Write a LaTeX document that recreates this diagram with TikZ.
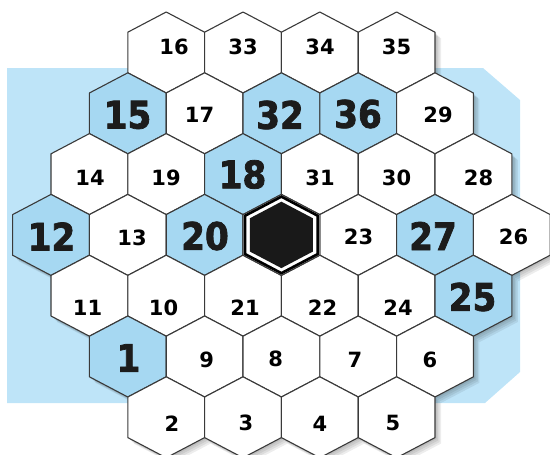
\documentclass[tikz,border=0pt]{standalone}
\usepackage{fontspec}
\setmainfont{DejaVu Sans}
\newfontfamily\bignumfont{DejaVu Sans}[FakeStretch=0.9,FakeBold=2]
\definecolor{bgblue}{RGB}{190,228,248}
\definecolor{hexblue}{RGB}{166,216,242}
\definecolor{edge}{RGB}{58,58,58}
\definecolor{txt}{RGB}{28,28,28}
\newcommand\hexat[2]{(#1,#2-40.5) -- (#1+38.4,#2-20.3) -- (#1+38.4,#2+20.3) -- (#1,#2+40.5) -- (#1-38.4,#2+20.3) -- (#1-38.4,#2-20.3) -- cycle}
\def\cells{3/0/w/16/174/47, 5/0/w/33/243/47, 7/0/w/34/320/47, 9/0/w/35/396.5/47,
2/1/b/15/127.5/115, 4/1/w/17/199.5/115, 6/1/b/32/280/115, 8/1/b/36/358/114, 10/1/w/29/438/115,
1/2/w/14/90/178, 3/2/w/19/166/178, 5/2/b/18/242.5/174.5, 7/2/w/31/320/178, 9/2/w/30/396.5/178, 11/2/w/28/478.5/178,
0/3/b/12/51.5/236.5, 2/3/w/13/132/237.5, 4/3/b/20/205/236, 8/3/w/23/358.5/237, 10/3/b/27/433/236, 12/3/w/26/513.5/237,
1/4/w/11/87.5/308, 3/4/w/10/163.5/308, 5/4/w/21/245/308, 7/4/w/22/322.5/308, 9/4/w/24/398/308, 11/4/b/25/472.5/297,
2/5/b/1/128.5/358, 4/5/w/9/206.7/360, 6/5/w/8/275.7/359, 8/5/w/7/355/360, 10/5/w/6/430/360,
3/6/w/2/172/423.5, 5/6/w/3/246/423, 7/6/w/4/320/424, 9/6/w/5/393/423}
\begin{document}
\begin{tikzpicture}[x=1pt,y=-1pt,
  cell/.style={draw=edge,line width=1.1pt,line join=round},
  cellw/.style={fill=white},
  cellb/.style={fill=hexblue},
  numw/.style={font=\fontsize{21}{21}\selectfont\bfseries,text=black,inner sep=0pt},
  numb/.style={font=\bignumfont\bfseries\fontsize{38}{38}\selectfont,text=txt,inner sep=0pt},
  shade/.style={fill=black,opacity=0.07}]
\useasboundingbox (0,0) rectangle (550,455);
% background
\fill[bgblue] (7,68) -- (483,68) -- (520,100) -- (520,372) -- (485,403) -- (7,403) -- cycle;
% shadows
\foreach \c/\r/\k/\l/\tx/\ty in \cells {
  \pgfmathsetmacro\xx{51+38.4*\c}
  \pgfmathsetmacro\yy{52.5+60.8*\r}
  \foreach \o in {1.5,3,4.5,6} {
    \fill[shade,shift={(\o,\o)}] \hexat{\xx}{\yy};
  }
}
\foreach \o in {1.5,3,4.5,6} {
  \fill[shade,shift={(\o,\o)}] \hexat{281.4}{234.9};
}
% cells
\foreach \c/\r/\k/\l/\tx/\ty in \cells {
  \pgfmathsetmacro\xx{51+38.4*\c}
  \pgfmathsetmacro\yy{52.5+60.8*\r}
  \path[cell,cell\k] \hexat{\xx}{\yy};
}
% centre cell
\path[cell,cellw] \hexat{281.4}{234.9};
\draw[black,line width=2.6pt,line join=miter,shift={(281.4,234.9)},scale=0.945] \hexat{0}{0};
\fill[black!90,shift={(281.4,234.9)},scale=0.82] \hexat{0}{0};
\coordinate (centre) at (281.4,234.9);
% numbers
\foreach \c/\r/\k/\l/\tx/\ty in \cells {
  \node[num\k] (n\l) at (\tx,\ty) {\l};
}
\end{tikzpicture}
\end{document}
